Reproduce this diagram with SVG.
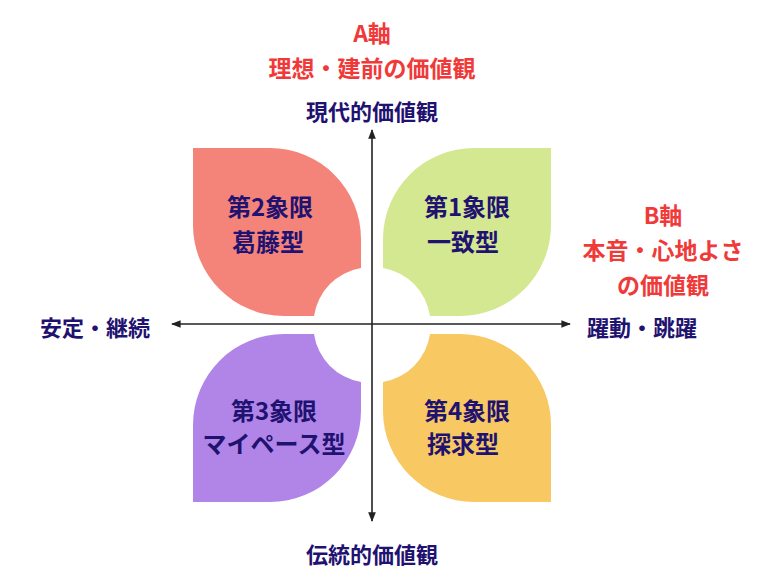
<svg xmlns="http://www.w3.org/2000/svg" width="774" height="587" viewBox="0 0 774 587">
<style>
text{font-family:"Noto Sans CJK JP","Noto Sans",sans-serif;font-weight:bold;text-anchor:middle}
.n{fill:#1f1270;font-size:22px}
.r{fill:#f03a3a;font-size:23px}
.q{fill:#1f1270;font-size:24px}
.ax{stroke:#222;stroke-width:1.6;fill:none}
</style>
<defs>
<path id="petal" d="M193,148 H270 A91,91 0 0 1 361,239 V268 A57,57 0 0 0 314,316 H284 A91,91 0 0 1 193,225 Z"/>
<marker id="ah" viewBox="0 0 10 10" refX="9" refY="5" markerWidth="6" markerHeight="6" orient="auto-start-reverse"><path d="M0,1 L10,5 L0,9 Z" fill="#222"/></marker>
</defs>
<rect width="774" height="587" fill="#fff"/>
<g id="q2"><use href="#petal" fill="#f4847a"/><text class="q" x="270" y="216">第2象限</text><text class="q" x="268" y="251">葛藤型</text></g>
<g id="q1"><use href="#petal" fill="#d4e891" transform="translate(744,0) scale(-1,1)"/><text class="q" x="467" y="216">第1象限</text><text class="q" x="463" y="251">一致型</text></g>
<g id="q3"><use href="#petal" fill="#b185e8" transform="translate(0,650) scale(1,-1)"/><text class="q" x="274" y="420">第3象限</text><text class="q" x="274" y="453">マイペース型</text></g>
<g id="q4"><use href="#petal" fill="#f8c862" transform="translate(744,650) scale(-1,-1)"/><text class="q" x="467" y="420">第4象限</text><text class="q" x="463" y="453">探求型</text></g>
<g id="connectors">
<line class="ax" x1="372" y1="130" x2="372" y2="521" marker-start="url(#ah)" marker-end="url(#ah)"/>
<line class="ax" x1="172" y1="324" x2="570" y2="324" marker-start="url(#ah)" marker-end="url(#ah)"/>
</g>
<g id="labels">
<text class="r" x="372" y="42">A軸</text>
<text class="r" x="372" y="77">理想・建前の価値観</text>
<text class="n" x="372" y="120">現代的価値観</text>
<text class="r" x="663" y="224">B軸</text>
<text class="r" x="663" y="259">本音・心地よさ</text>
<text class="r" x="663" y="294">の価値観</text>
<text class="n" x="95" y="336">安定・継続</text>
<text class="n" x="642" y="336">躍動・跳躍</text>
<text class="n" x="372" y="563">伝統的価値観</text>
</g>
</svg>
